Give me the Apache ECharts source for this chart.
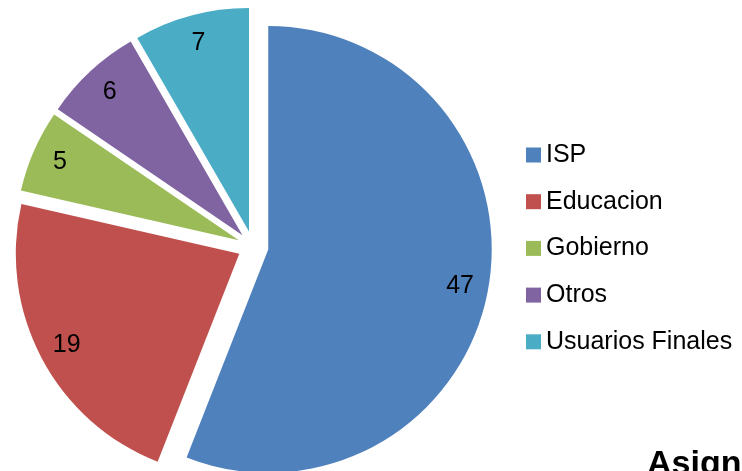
<!DOCTYPE html>
<html>
<head>
<meta charset="utf-8">
<script src="https://cdn.jsdelivr.net/npm/echarts@6/dist/echarts.min.js"></script>
<style>
  html, body { margin: 0; padding: 0; background: #fff; }
  #chart { width: 742px; height: 471px; }
</style>
</head>
<body>
<div id="chart"></div>
<script>
const categories = ['ISP', 'Educacion', 'Gobierno', 'Otros', 'Usuarios Finales']
const values = [47, 19, 5, 6, 7]
const colors = ['#4F81BD', '#C0504D', '#9BBB59', '#8064A2', '#4BACC6']

const font = '"Liberation Sans", Arial, sans-serif'
const chart = echarts.init(document.getElementById('chart'))

// datos de los sectores (todos separados del centro)
const sliceData = categories.map((name, i) => ({
  name: name,
  value: values[i],
  selected: true,
  itemStyle: { color: colors[i] }
}))

const option = {
  animation: false,
  title: {
    text: 'Asignaciones',
    left: 642,
    top: 443,
    textStyle: { fontFamily: font, fontSize: 34, fontWeight: 'bold', color: '#000' }
  },
  legend: {
    orient: 'vertical',
    left: 521,
    top: 137,
    itemWidth: 15,
    itemHeight: 15,
    itemGap: 20.7,
    icon: 'rect',
    selectedMode: false,
    data: categories,
    textStyle: { fontFamily: font, fontSize: 25, lineHeight: 26, color: '#000', padding: 0 }
  },
  series: [
    {
      type: 'pie',
      center: [253, 246.5],
      radius: 223.5,
      startAngle: 90,
      selectedMode: 'multiple',
      selectedOffset: 15.5,
      silent: true,
      label: { show: false },
      labelLine: { show: false },
      data: sliceData
    },
    {
      // serie transparente solo para colocar las etiquetas
      type: 'pie',
      center: [253, 246.5],
      radius: [161, 223.5],
      startAngle: 90,
      selectedMode: 'multiple',
      selectedOffset: 15.5,
      silent: true,
      itemStyle: { color: 'rgba(0,0,0,0)' },
      label: {
        show: true,
        position: 'inside',
        formatter: '{c}',
        fontFamily: font,
        fontSize: 25,
        color: '#000'
      },
      labelLine: { show: false },
      data: categories.map((name, i) => ({ name: name, value: values[i], selected: true }))
    }
  ]
}

chart.setOption(option)
</script>
</body>
</html>
